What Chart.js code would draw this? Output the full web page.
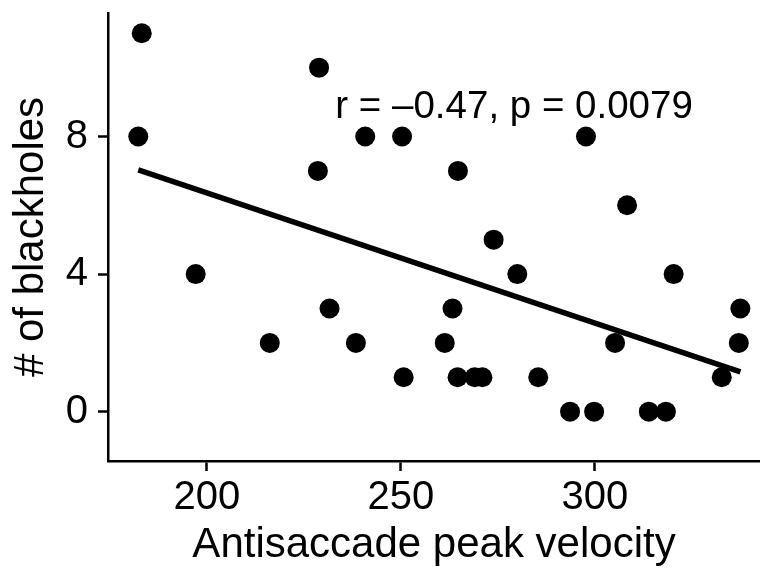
<!DOCTYPE html>
<html>
<head>
<meta charset="utf-8">
<script src="https://cdn.jsdelivr.net/npm/chart.js@4/dist/chart.umd.min.js"></script>
<style>
  html, body { margin: 0; padding: 0; background: #ffffff; }
  #wrap { width: 760px; height: 569px; position: relative; }
</style>
</head>
<body>
<div id="wrap"><canvas id="c" width="760" height="569"></canvas></div>
<script>
// Antisaccade peak velocity (x) and number of blackholes (y)
const velocity = [183.2, 182.3, 197.1, 216.2, 228.9, 228.6, 231.6, 238.4, 240.8, 250.3,
                  250.7, 261.3, 263.3, 264.7, 264.6, 269.0, 271.0, 273.9, 280.0, 285.4,
                  293.6, 297.7, 299.8, 305.2, 308.3, 313.9, 318.3, 320.3, 332.7, 337.5, 337.1];
const blackholes = [11, 8, 4, 2, 10, 7, 3, 2, 8, 8,
                    1, 2, 3, 7, 1, 1, 1, 5, 4, 1,
                    0, 8, 0, 2, 6, 0, 0, 4, 1, 3, 2];
// Fitted regression line end points
const fitX = [182.3, 337.5];
const fitY = [7.03, 1.16];
// Axis ticks
const xTicks = [200, 250, 300];
const yTicks = [0, 4, 8];
const annotationText = 'r = \u20130.47, p = 0.0079';

const FONT = '"Liberation Sans", Arial, Helvetica, sans-serif';

const points = velocity.map((v, i) => ({ x: v, y: blackholes[i] }));
const fitLine = fitX.map((v, i) => ({ x: v, y: fitY[i] }));

const annotationPlugin = {
  id: 'corrLabel',
  afterDatasetsDraw(chart) {
    const { ctx, scales } = chart;
    const px = scales.x.getPixelForValue(233.1);
    const py = scales.y.getPixelForValue(8.54);
    ctx.save();
    ctx.font = '38.5px ' + FONT;
    ctx.fillStyle = '#000';
    ctx.textAlign = 'left';
    ctx.textBaseline = 'alphabetic';
    ctx.fillText(annotationText, px, py);
    ctx.restore();
  }
};

new Chart(document.getElementById('c'), {
  type: 'scatter',
  data: {
    datasets: [
      {
        type: 'scatter',
        data: points,
        pointRadius: 10,
        pointHoverRadius: 10,
        pointBackgroundColor: '#000',
        pointBorderWidth: 0,
        borderColor: '#000',
        order: 2
      },
      {
        type: 'line',
        data: fitLine,
        borderColor: '#000',
        borderWidth: 5.5,
        pointRadius: 0,
        fill: false,
        tension: 0,
        order: 1
      }
    ]
  },
  options: {
    responsive: false,
    animation: false,
    events: [],
    layout: { autoPadding: false, padding: { top: 13, left: 0, right: 0, bottom: 0 } },
    plugins: { legend: { display: false }, tooltip: { enabled: false } },
    scales: {
      x: {
        type: 'linear',
        min: 174.5,
        max: 342.56,
        afterBuildTicks: s => { s.ticks = xTicks.map(v => ({ value: v })); },
        afterFit: s => { s.height = 108; s.paddingLeft = 0; s.paddingRight = 0; },
        border: { display: true, color: '#000', width: 2.5 },
        grid: { drawOnChartArea: false, drawTicks: true, tickLength: 10, tickColor: '#000', tickWidth: 2.5 },
        ticks: { color: '#000', font: { family: FONT, size: 40 }, padding: 3, maxRotation: 0 },
        title: { display: true, text: 'Antisaccade peak velocity', color: '#000',
                 font: { family: FONT, size: 42, lineHeight: 1.0 }, padding: { top: 0, bottom: 3 } }
      },
      y: {
        type: 'linear',
        min: -1.434,
        max: 11.59,
        afterBuildTicks: s => { s.ticks = yTicks.map(v => ({ value: v })); },
        afterFit: s => { s.width = 108; s.paddingTop = 0; s.paddingBottom = 0; },
        border: { display: true, color: '#000', width: 2.5 },
        grid: { drawOnChartArea: false, drawTicks: true, tickLength: 10, tickColor: '#000', tickWidth: 2.5 },
        ticks: { color: '#000', font: { family: FONT, size: 40 }, padding: 10 },
        title: { display: true, text: '# of blackholes', color: '#000',
                 font: { family: FONT, size: 42, lineHeight: 1.0 }, padding: { top: 10, bottom: 0 } }
      }
    }
  },
  plugins: [annotationPlugin]
});
</script>
</body>
</html>
